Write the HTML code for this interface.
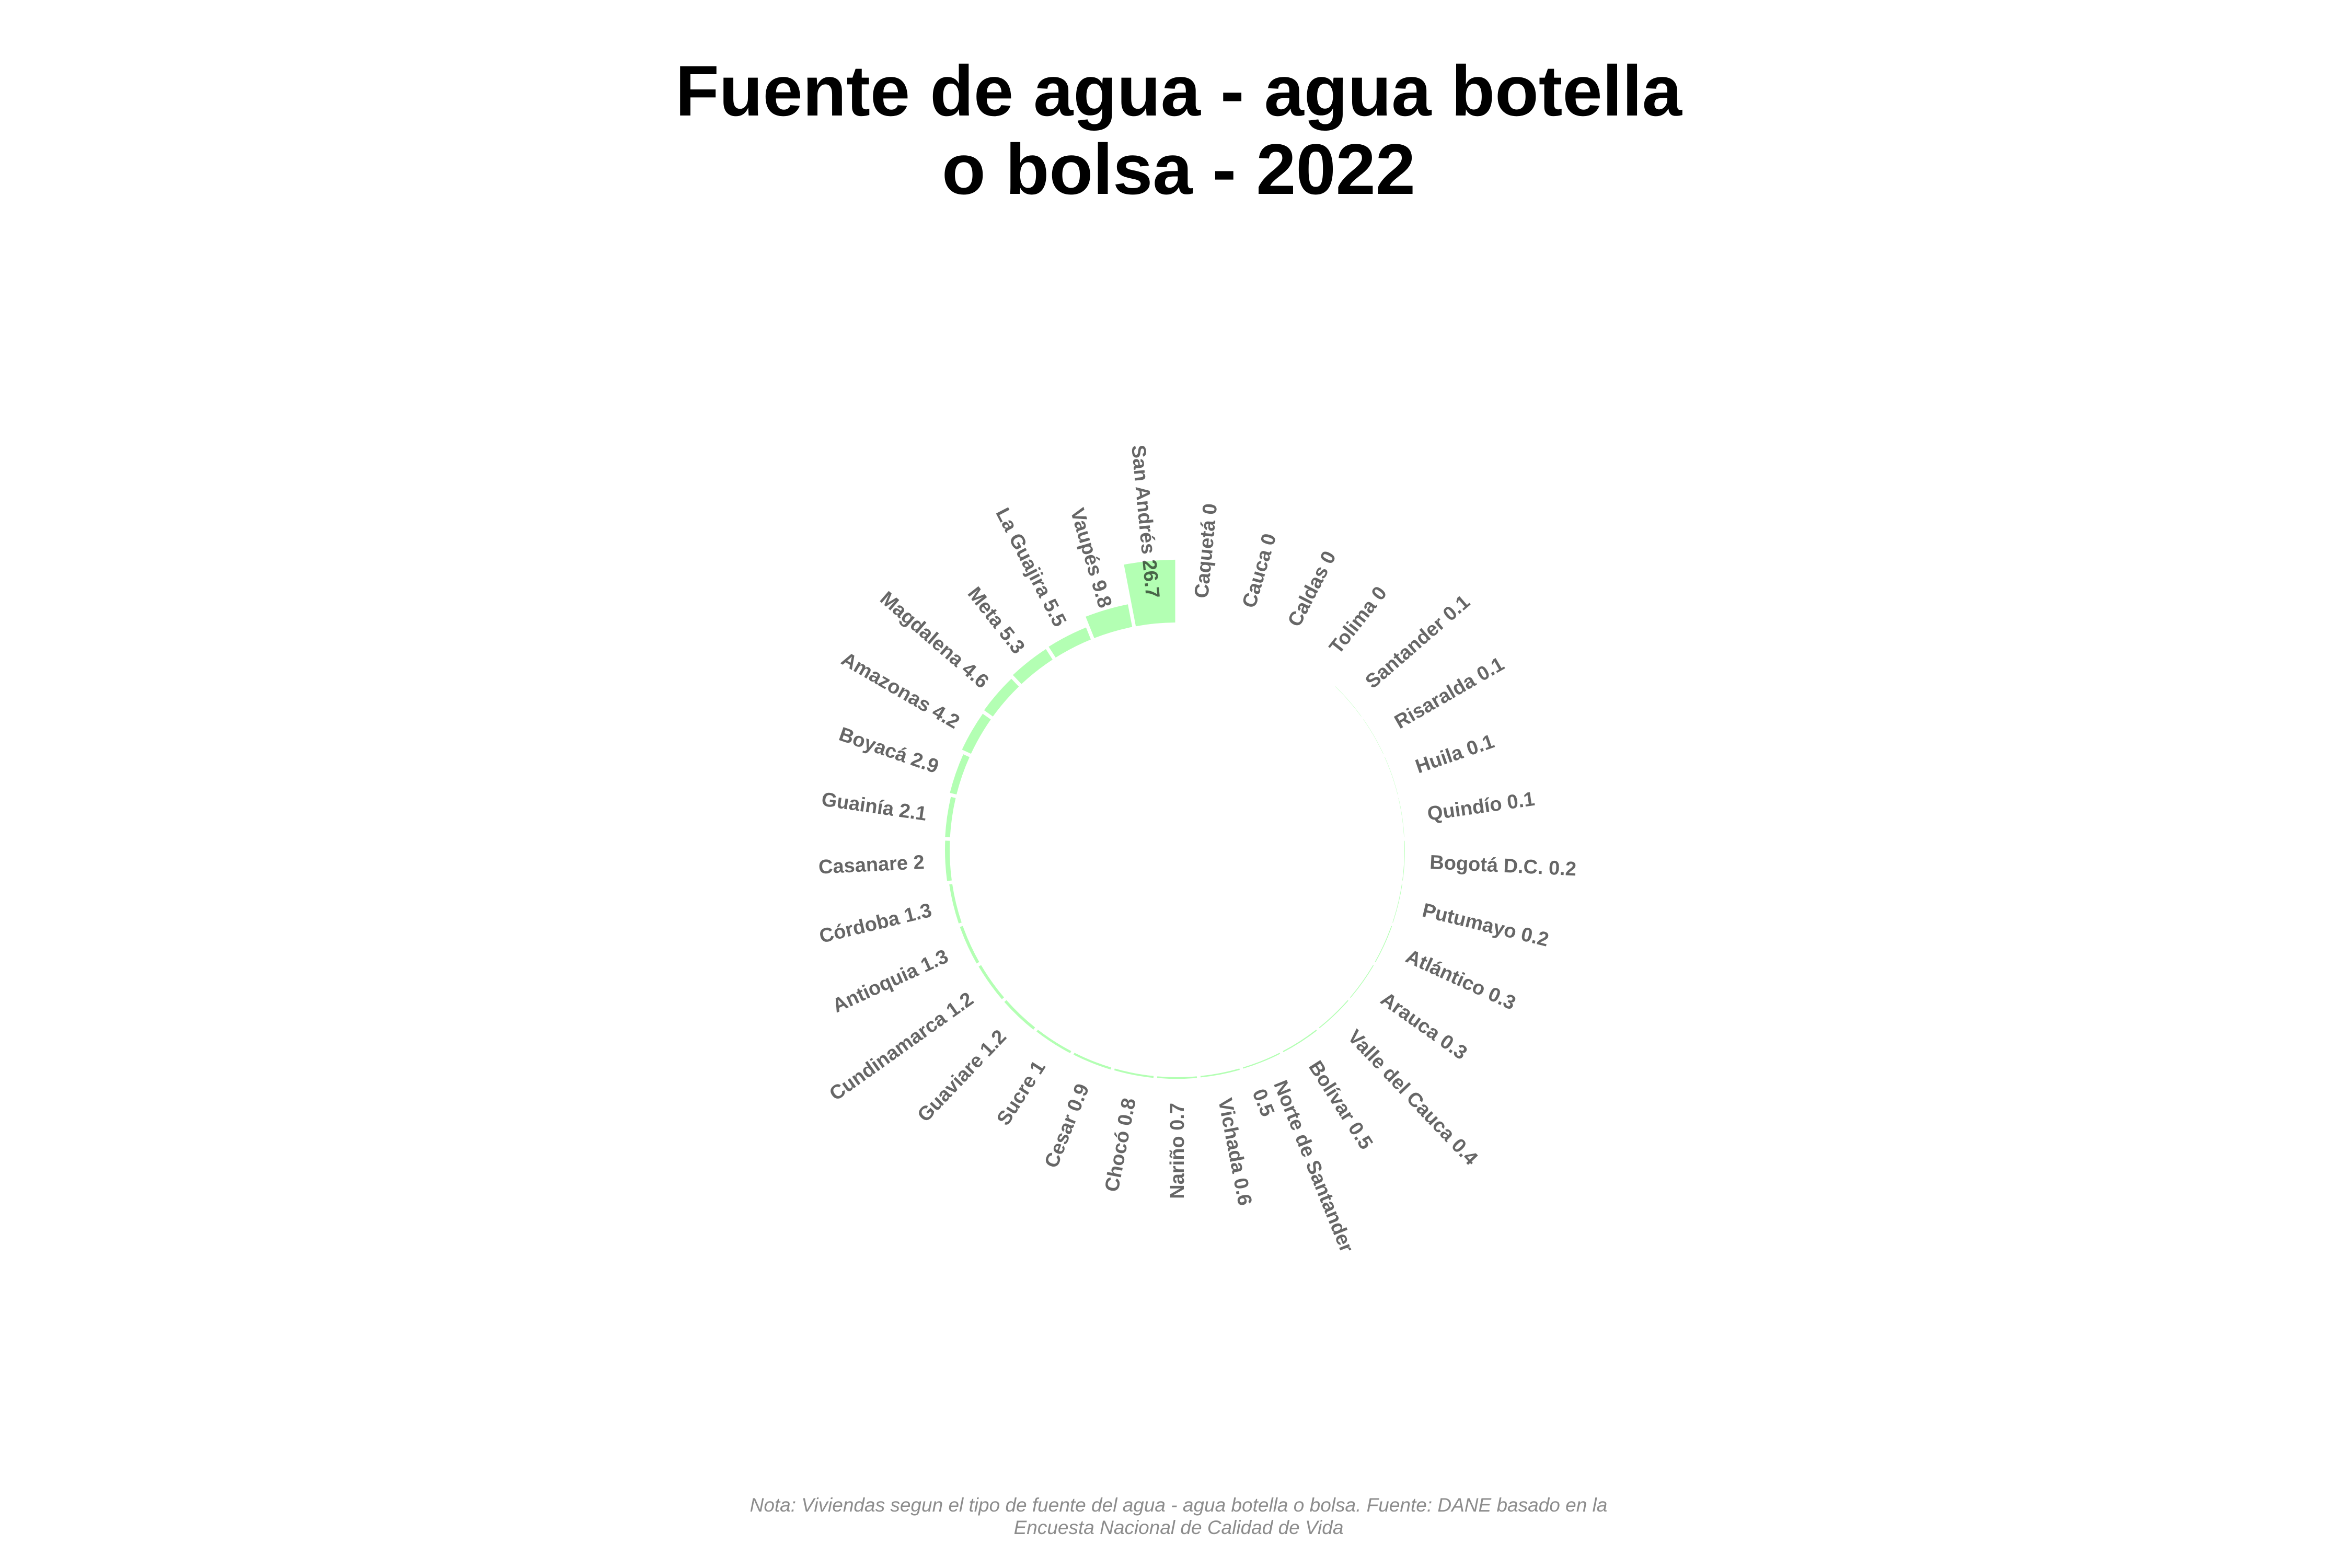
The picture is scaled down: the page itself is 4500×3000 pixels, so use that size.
<!DOCTYPE html>
<html><head><meta charset="utf-8"><title>Fuente de agua - agua botella o bolsa - 2022</title>
<style>
html,body{margin:0;padding:0;background:#fff;}
svg{display:block;}
</style></head>
<body>
<svg id="chart" width="4500" height="3000" viewBox="0 0 4500 3000" xmlns="http://www.w3.org/2000/svg">
<rect x="0" y="0" width="4500" height="3000" fill="#ffffff"/>
<g font-family="Liberation Sans, Arial, sans-serif" font-weight="bold" font-size="137" fill="#000" text-anchor="middle">
<text x="2255" y="221">Fuente de agua - agua botella</text>
<text x="2255" y="371">o bolsa - 2022</text>
</g>
<g id="bars"></g>
<g id="labels" font-family="Liberation Sans, Arial, sans-serif" font-weight="bold" font-size="38" fill="rgba(0,0,0,0.6)"></g>
<g font-family="Liberation Sans, Arial, sans-serif" font-style="italic" font-size="37" fill="#8c8c8c" text-anchor="middle">
<text x="2255" y="2892">Nota: Viviendas segun el tipo de fuente del agua - agua botella o bolsa. Fuente: DANE basado en la</text>
<text x="2255" y="2935">Encuesta Nacional de Calidad de Vida</text>
</g>
</svg>
<script>
const categories = ["Caquetá","Cauca","Caldas","Tolima","Santander","Risaralda","Huila","Quindío","Bogotá D.C.","Putumayo","Atlántico","Arauca","Valle del Cauca","Bolívar","Norte de Santander","Vichada","Nariño","Chocó","Cesar","Sucre","Guaviare","Cundinamarca","Antioquia","Córdoba","Casanare","Guainía","Boyacá","Amazonas","Magdalena","Meta","La Guajira","Vaupés","San Andrés"];
const values = [0,0,0,0,0.1,0.1,0.1,0.1,0.2,0.2,0.3,0.3,0.4,0.5,0.5,0.6,0.7,0.8,0.9,1,1.2,1.2,1.3,1.3,2,2.1,2.9,4.2,4.6,5.3,5.5,9.8,26.7];
const valueLabels = ["0","0","0","0","0.1","0.1","0.1","0.1","0.2","0.2","0.3","0.3","0.4","0.5","0.5","0.6","0.7","0.8","0.9","1","1.2","1.2","1.3","1.3","2","2.1","2.9","4.2","4.6","5.3","5.5","9.8","26.7"];

const NS = "http://www.w3.org/2000/svg";
const CX = 2252, CY = 1626, R0 = 435, PX_PER_UNIT = 4.5, LABEL_R = 484, GAP = 7;
const n = categories.length;
const step = 360 / n;
function angleScale(i){ return i * step; }
function radiusScale(v){ return R0 + v * PX_PER_UNIT; }
function pt(r, deg){ const a = deg * Math.PI / 180; return [CX + r * Math.sin(a), CY - r * Math.cos(a)]; }

const barsG = document.getElementById('bars');
const labelsG = document.getElementById('labels');

for (let i = 0; i < n; i++) {
  const v = values[i];
  const a0 = angleScale(i), a1 = angleScale(i + 1);
  if (v > 0) {
    const r1 = radiusScale(v);
    const pad0 = (GAP / 2) / R0 * 180 / Math.PI;
    const pad1 = (GAP / 2) / r1 * 180 / Math.PI;
    const p1 = pt(R0, a0 + pad0), p2 = pt(r1, a0 + pad1), p3 = pt(r1, a1 - pad1), p4 = pt(R0, a1 - pad0);
    const d = `M${p1[0]},${p1[1]} L${p2[0]},${p2[1]} A${r1},${r1} 0 0 1 ${p3[0]},${p3[1]} L${p4[0]},${p4[1]} A${R0},${R0} 0 0 0 ${p1[0]},${p1[1]} Z`;
    const path = document.createElementNS(NS, 'path');
    path.setAttribute('d', d);
    path.setAttribute('fill', '#b3ffb3');
    
    
    barsG.appendChild(path);
  }
  const mid = (a0 + a1) / 2;
  const p = pt(LABEL_R, mid);
  const right = mid < 180;
  const rot = right ? mid - 90 : mid + 90;
  const t = document.createElementNS(NS, 'text');
  t.setAttribute('x', p[0]);
  t.setAttribute('y', p[1]);
  t.setAttribute('text-anchor', right ? 'start' : 'end');
  t.setAttribute('transform', `rotate(${rot} ${p[0]} ${p[1]})`);
  
  
  const txt = categories[i] + ' ' + valueLabels[i];
  if (categories[i] === 'Norte de Santander') {
    const s1 = document.createElementNS(NS, 'tspan');
    s1.setAttribute('x', p[0]);
    s1.setAttribute('dy', '-5');
    s1.textContent = categories[i];
    const s2 = document.createElementNS(NS, 'tspan');
    s2.setAttribute('x', p[0]);
    s2.setAttribute('dy', '44');
    s2.textContent = valueLabels[i];
    t.appendChild(s1); t.appendChild(s2);
  } else {
    t.setAttribute('dy', '13');
    t.textContent = txt;
  }
  labelsG.appendChild(t);
}
</script>
</body></html>
